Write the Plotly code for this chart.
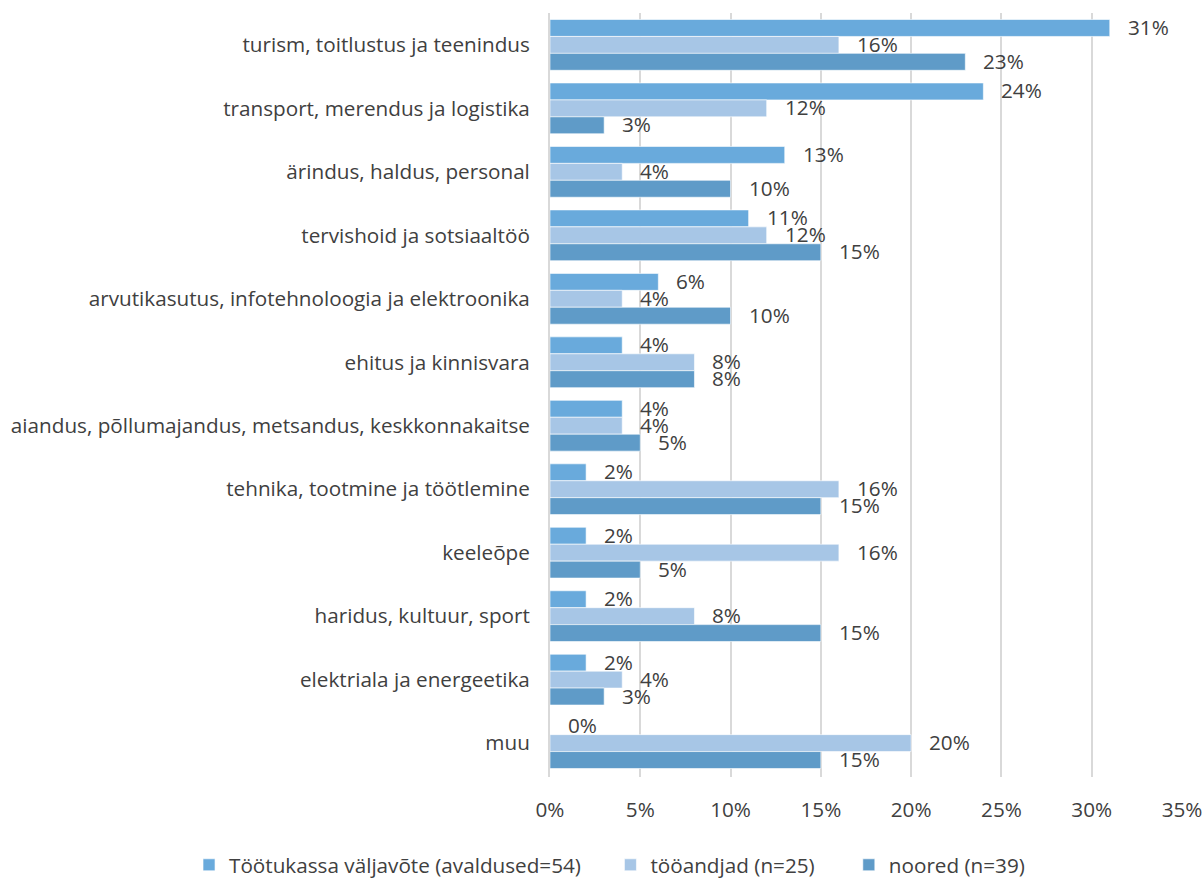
import plotly.graph_objects as go

categories = [
    "turism, toitlustus ja teenindus",
    "transport, merendus ja logistika",
    "ärindus, haldus, personal",
    "tervishoid ja sotsiaaltöö",
    "arvutikasutus, infotehnoloogia ja elektroonika",
    "ehitus ja kinnisvara",
    "aiandus, põllumajandus, metsandus, keskkonnakaitse",
    "tehnika, tootmine ja töötlemine",
    "keeleõpe",
    "haridus, kultuur, sport",
    "elektriala ja energeetika",
    "muu",
]
series_names = [
    "Töötukassa väljavõte (avaldused=54)",
    "tööandjad (n=25)",
    "noored (n=39)",
]
tootukassa = [31, 24, 13, 11, 6, 4, 4, 2, 2, 2, 2, 0]
tooandjad = [16, 12, 4, 12, 4, 8, 4, 16, 16, 8, 4, 20]
noored = [23, 3, 10, 15, 10, 8, 5, 15, 5, 15, 3, 15]
series_values = [tootukassa, tooandjad, noored]
colors = ["#69AADC", "#A7C6E6", "#5F9BC8"]

FONT = "Open Sans"
TEXT_COLOR = "#404040"
FS = 20.7

# each trace gets its own legend so the row can be laid out like the original
legend_ids = ["legend", "legend2", "legend3"]
legend_x = [0.157, 0.507, 0.705]

fig = go.Figure()
for name, vals, color, lid in zip(series_names, series_values, colors, legend_ids):
    fig.add_trace(go.Bar(
        y=categories,
        x=vals,
        name=name,
        orientation="h",
        legend=lid,
        marker=dict(color=color, line=dict(color="white", width=0.6)),
    ))

# value labels, Excel style: to the right of each bar end
bar_px = 16.9
for i, vals in enumerate(series_values):
    for cat, v in zip(categories, vals):
        fig.add_annotation(
            x=v, y=cat, text=f"{v}%", showarrow=False,
            xanchor="left", yanchor="middle",
            xshift=16, yshift=-(i - 1) * bar_px + 1,
            font=dict(family=FONT, size=FS, color=TEXT_COLOR),
        )

legend_common = dict(
    orientation="h",
    xref="container", yref="container",
    xanchor="left", yanchor="middle",
    y=0.015,
    font=dict(family=FONT, size=FS, color=TEXT_COLOR),
    bgcolor="rgba(0,0,0,0)",
    itemwidth=30,
)

fig.update_layout(
    barmode="group",
    bargap=0.2,
    bargroupgap=0,
    width=1204,
    height=878,
    plot_bgcolor="white",
    paper_bgcolor="white",
    font=dict(family=FONT, size=FS, color=TEXT_COLOR),
    margin=dict(l=550, r=22, t=13, b=101),
    xaxis=dict(
        range=[0, 35],
        dtick=5,
        ticksuffix="%",
        showgrid=True,
        gridcolor="#D9D9D9",
        gridwidth=1.5,
        zeroline=False,
        showline=False,
        ticks="",
        ticklabelstandoff=18,
        automargin=False,
        tickfont=dict(size=FS, color=TEXT_COLOR),
    ),
    yaxis=dict(
        autorange="reversed",
        showline=True,
        linecolor="#D9D9D9",
        linewidth=2,
        ticks="",
        ticklabelstandoff=14,
        automargin=False,
        tickfont=dict(size=FS, color=TEXT_COLOR),
    ),
    legend=dict(legend_common, x=legend_x[0]),
    legend2=dict(legend_common, x=legend_x[1]),
    legend3=dict(legend_common, x=legend_x[2]),
    showlegend=True,
)

# drop the page's default body margin so the figure sits at the window's corner
fig.write_html(
    "out.html",
    config={"displayModeBar": False},
    post_script="document.body.style.margin='0';",
)
